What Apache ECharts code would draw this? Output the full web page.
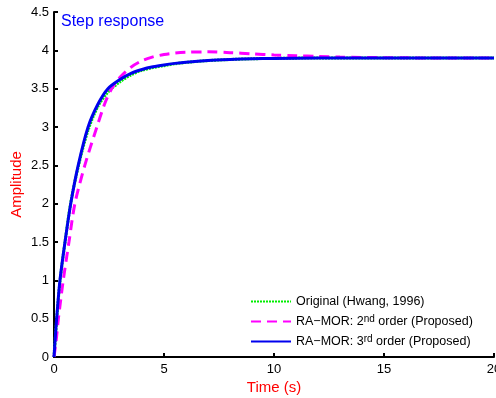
<!DOCTYPE html>
<html>
<head>
<meta charset="utf-8">
<script src="https://cdn.jsdelivr.net/npm/echarts@6/dist/echarts.min.js"></script>
<style>html,body{margin:0;padding:0;background:#fff}#c{width:496px;height:398px}</style>
</head>
<body>
<div id="c"></div>
<script>
// Time points (s)
var tOrig = [0, 0.06, 0.12, 0.27, 0.5, 0.76, 1.1, 1.55, 2.0, 2.5, 3.0, 3.5, 4.0, 4.5, 5.0, 5.5, 6.0, 7.0, 8.0, 9.0, 10.0, 12.0, 15.0, 20.0];
var yOrig = [0, 0.25, 0.48, 0.98, 1.5, 2.01, 2.48, 2.96, 3.27, 3.47, 3.59, 3.68, 3.74, 3.775, 3.80, 3.825, 3.842, 3.866, 3.88, 3.89, 3.895, 3.9, 3.9, 3.9];

var t3 = [0, 0.06, 0.12, 0.27, 0.5, 0.76, 1.1, 1.55, 2.0, 2.45, 3.0, 3.5, 4.0, 4.5, 5.0, 5.5, 6.0, 7.0, 8.0, 9.0, 10.0, 12.0, 15.0, 20.0];
var y3 = [0, 0.26, 0.5, 1.0, 1.5, 2.0, 2.5, 3.0, 3.3, 3.5, 3.62, 3.7, 3.75, 3.785, 3.81, 3.83, 3.846, 3.868, 3.881, 3.89, 3.895, 3.9, 3.9, 3.9];

var t2 = [0, 0.1, 0.2, 0.42, 0.68, 0.95, 1.4, 1.95, 2.3, 2.62, 3.0, 3.5, 4.0, 4.5, 5.0, 5.5, 6.0, 7.0, 8.0, 9.0, 10.0, 11.0, 12.0, 13.0, 14.0, 16.0, 18.0, 20.0];
var y2 = [0, 0.22, 0.5, 1.0, 1.5, 2.0, 2.5, 3.0, 3.3, 3.5, 3.65, 3.78, 3.865, 3.915, 3.945, 3.965, 3.975, 3.98, 3.97, 3.955, 3.94, 3.93, 3.92, 3.912, 3.907, 3.902, 3.9, 3.9];

var xTicks = [0, 5, 10, 15, 20];
var yTicks = [0, 0.5, 1, 1.5, 2, 2.5, 3, 3.5, 4, 4.5];

var names = ['Original (Hwang, 1996)', 'RA\u2212MOR: 2nd order (Proposed)', 'RA\u2212MOR: 3rd order (Proposed)'];

function pairs(t, y) { return t.map(function (v, i) { return [v, y[i]]; }); }

var FONT = 'Liberation Sans, Arial, Helvetica, sans-serif';
var chart = echarts.init(document.getElementById('c'), null, {renderer: 'canvas'});
chart.setOption({
  animation: false,
  backgroundColor: '#fff',
  textStyle: {fontFamily: FONT},
  title: {
    text: 'Step response', left: 56, top: 9,
    textStyle: {color: '#0000ff', fontSize: 16, fontWeight: 'normal', fontFamily: FONT}
  },
  grid: {left: 54, right: 2, top: 12, bottom: 41, containLabel: false, outerBoundsMode: 'none'},
  legend: {
    orient: 'vertical', left: 245, top: 289,
    itemWidth: 40, itemHeight: 12, itemGap: 5,
    data: names,
    itemStyle: {opacity: 0},
    formatter: function (n) {
      if (n === names[1]) return 'RA\u2212MOR: 2{sup|nd} order (Proposed)';
      if (n === names[2]) return 'RA\u2212MOR: 3{sup|rd} order (Proposed)';
      return n;
    },
    textStyle: {
      fontSize: 12.5, lineHeight: 15, color: '#000', fontFamily: FONT,
      rich: {sup: {fontSize: 10, lineHeight: 15, verticalAlign: 'bottom', padding: [0, 0, 5, 0], fontFamily: FONT, color: '#000'}}
    }
  },
  xAxis: {
    type: 'value', min: xTicks[0], max: xTicks[xTicks.length - 1], interval: 5,
    name: 'Time (s)', nameLocation: 'middle', nameGap: 23, nameMoveOverlap: false,
    nameTextStyle: {color: '#ff0000', fontSize: 15, fontFamily: FONT},
    axisLine: {show: true, lineStyle: {color: '#000', width: 2}},
    axisTick: {show: true, inside: true, length: 4, lineStyle: {color: '#000', width: 2}},
    axisLabel: {color: '#000', fontSize: 13, margin: 6, fontFamily: FONT},
    splitLine: {show: false}
  },
  yAxis: {
    type: 'value', min: yTicks[0], max: yTicks[yTicks.length - 1], interval: 0.5,
    name: 'Amplitude', nameLocation: 'middle', nameGap: 30, nameMoveOverlap: false,
    nameTextStyle: {color: '#ff0000', fontSize: 15, fontFamily: FONT},
    axisLine: {show: true, lineStyle: {color: '#000', width: 2}},
    axisTick: {show: true, inside: true, length: 4, lineStyle: {color: '#000', width: 2}},
    axisLabel: {color: '#000', fontSize: 13, margin: 5, fontFamily: FONT},
    splitLine: {show: false}
  },
  series: [
    {
      name: names[0], type: 'line', data: pairs(tOrig, yOrig), showSymbol: false, symbol: 'none',
      smooth: 0.3, z: 2,
      lineStyle: {color: '#00ee00', width: 3, type: [2, 1]}, itemStyle: {color: '#00ee00'}
    },
    {
      name: names[1], type: 'line', data: pairs(t2, y2), showSymbol: false, symbol: 'none',
      smooth: 0.3, z: 3,
      lineStyle: {color: '#ff00ff', width: 3, type: [10, 6]}, itemStyle: {color: '#ff00ff'}
    },
    {
      name: names[2], type: 'line', data: pairs(t3, y3), showSymbol: false, symbol: 'none',
      smooth: 0.3, z: 4,
      lineStyle: {color: '#0000ee', width: 3}, itemStyle: {color: '#0000ee'}
    }
  ]
});
</script>
</body>
</html>
